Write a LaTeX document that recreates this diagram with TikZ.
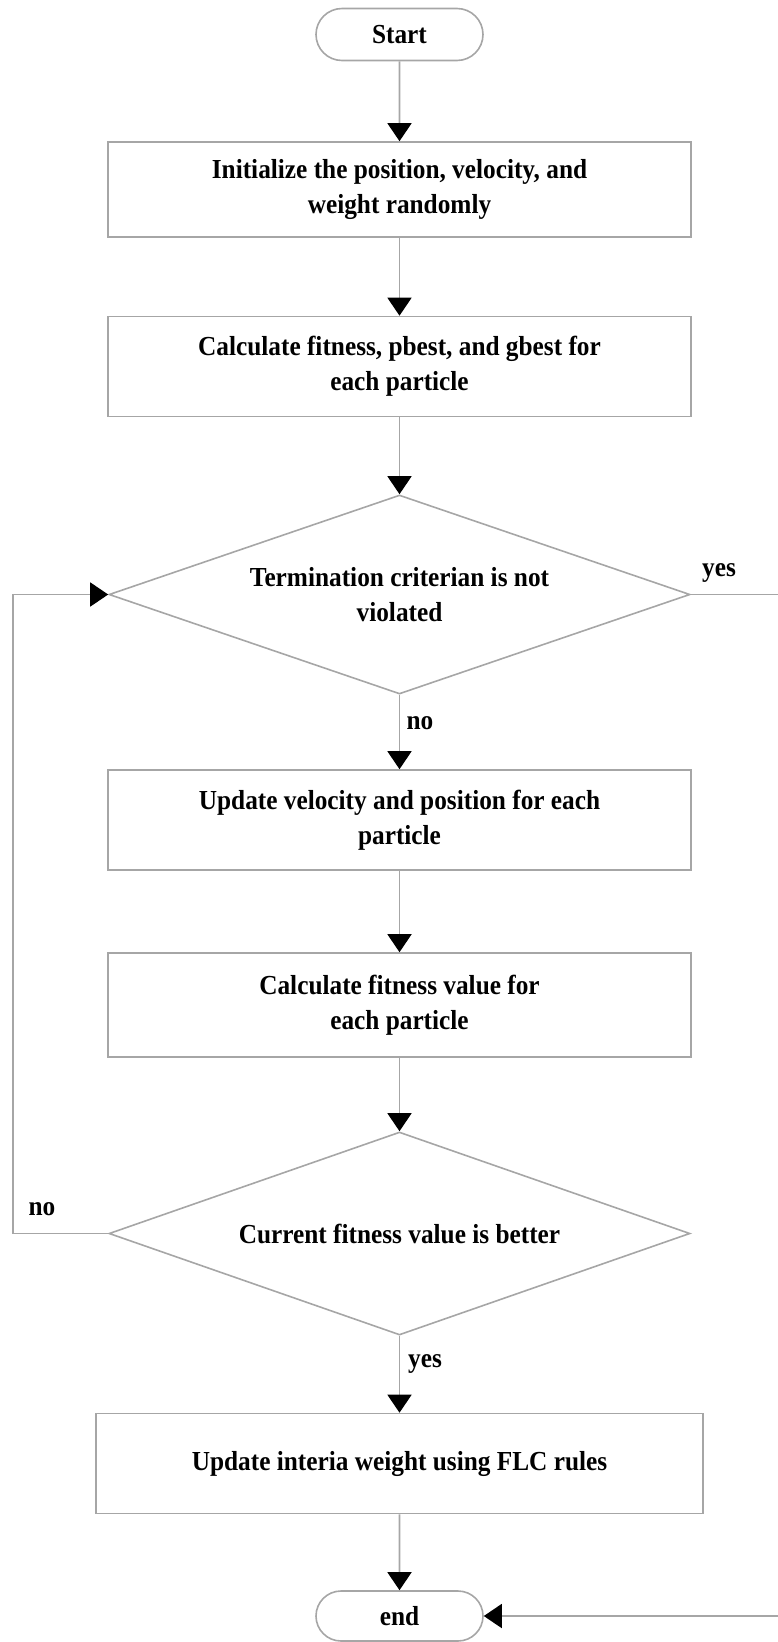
\documentclass[tikz,border=0pt]{standalone}
\usepackage{fontspec}
\setmainfont[FakeStretch=0.92]{Liberation Serif}
\usetikzlibrary{shapes.geometric,shapes.misc,arrows.meta}

\begin{document}
\begin{tikzpicture}[x=1pt,y=-1pt,
    every node/.style={font=\bfseries\fontsize{27.5}{35}\selectfont},
    box/.style={draw=black!35, line width=1.6pt, minimum width=583pt, minimum height=100pt, align=center, inner sep=0pt},
    term/.style={draw=black!35, line width=1.6pt, rounded rectangle, minimum width=167pt, minimum height=52pt, inner sep=0pt},
    decision/.style={draw=black!35, line width=1.6pt, diamond, aspect=2.95, minimum width=581pt, minimum height=199pt, align=center, inner sep=0pt},
    arr/.style={draw=black!35, line width=1.6pt, -{Triangle[length=18pt,width=24pt,color=black]}},
    lab/.style={inner sep=0pt}]
    \useasboundingbox (0,0) rectangle (777,1642);

    % 开始
    \node[term] (start) at (399.5,34.5) {Start};

    % 初始化
    \node[box, minimum height=95pt] (init) at (399.5,189.5) {Initialize the position, velocity, and\\weight randomly};
    \node[box] (calc) at (399.5,366.5) {Calculate fitness, pbest, and gbest for\\each particle};

    % 终止判断
    \node[decision] (crit) at (399.5,594.5) {Termination criterian is not\\violated};

    % 更新
    \node[box] (upd) at (399.5,820) {Update velocity and position for each\\particle};
    \node[box, minimum height=104pt] (fit) at (399.5,1005) {Calculate fitness value for\\each particle};

    % 适应度判断
    \node[decision, minimum height=203pt] (better) at (399.5,1233.5) {Current fitness value is better};

    % 惯性权重
    \node[box, minimum width=607pt] (flc) at (399.5,1463.5) {Update interia weight using FLC rules};

    % 结束
    \node[term, minimum height=50pt] (end) at (399.5,1616) {end};

    % 主流程
    \draw[arr] (start) -- (init);
    \draw[arr] (init) -- (calc);
    \draw[arr] (calc) -- (crit);
    \draw[arr] (crit) -- (upd);
    \draw[arr] (upd) -- (fit);
    \draw[arr] (fit) -- (better);
    \draw[arr] (better) -- (flc);
    \draw[arr] (flc) -- (end);

    % 回路
    \coordinate (lp) at (13,1233.5);
    \draw[arr] (better.west) -- (lp) |- (crit.west);
    \coordinate (rp) at (781,594.5);
    \draw[arr] (crit.east) -- (rp) |- (end.east);

    % 标注
    \node[lab] (yes1) at (719,573) {yes};
    \node[lab] (no1) at (420,723) {no};
    \node[lab] (no2) at (42,1209) {no};
    \node[lab] (yes2) at (425,1364) {yes};
\end{tikzpicture}
\end{document}
